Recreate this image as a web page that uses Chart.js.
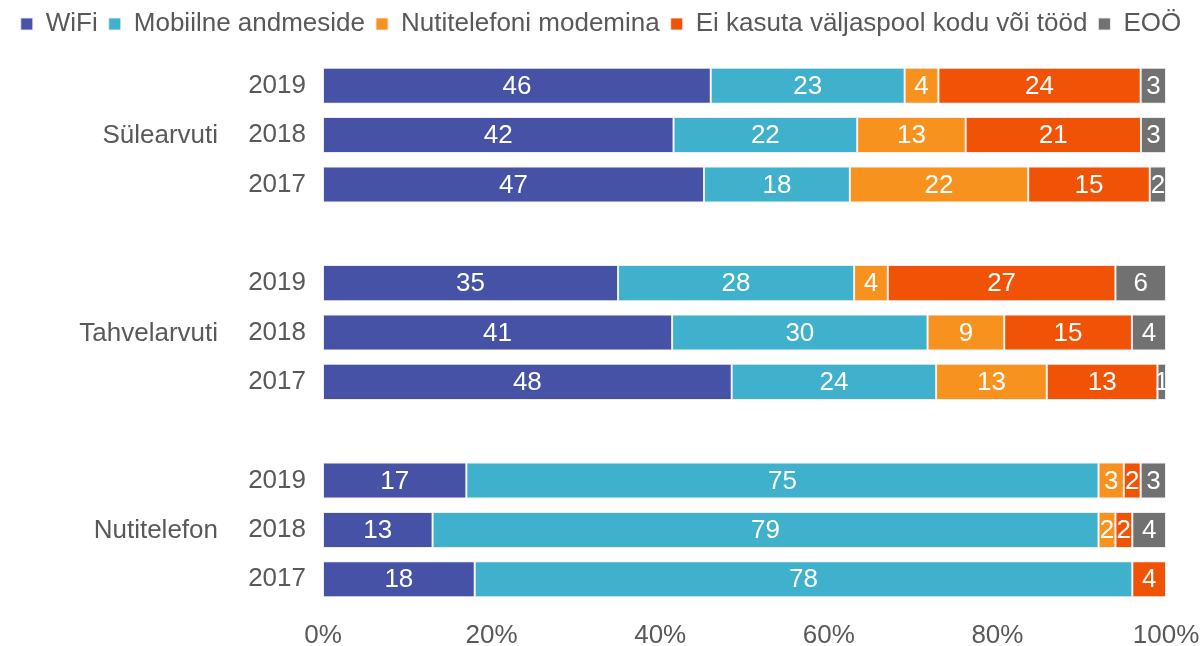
<!DOCTYPE html>
<html>
<head>
<meta charset="utf-8">
<script src="https://cdn.jsdelivr.net/npm/chart.js@4/dist/chart.umd.min.js"></script>
<style>
  html, body { margin: 0; padding: 0; background: #fff; }
  #wrap { width: 1202px; height: 646px; position: relative; }
</style>
</head>
<body>
<div id="wrap"><canvas id="chart"></canvas></div>
<script>
const groups = ['Sülearvuti', 'Tahvelarvuti', 'Nutitelefon'];
const years = ['2019', '2018', '2017'];
const seriesNames = ['WiFi', 'Mobiilne andmeside', 'Nutitelefoni modemina', 'Ei kasuta väljaspool kodu või tööd', 'EOÖ'];
const seriesColors = ['#4652A5', '#3FB1CD', '#F7921F', '#F05306', '#717171'];

// rows per group: 2019, 2018, 2017
const wifi    = [46, 42, 47,  35, 41, 48,  17, 13, 18];
const mobile  = [23, 22, 18,  28, 30, 24,  75, 79, 78];
const modem   = [ 4, 13, 22,   4,  9, 13,   3,  2,  0];
const notUsed = [24, 21, 15,  27, 15, 13,   2,  2,  4];
const eoo     = [ 3,  3,  2,   6,  4,  1,   3,  4,  0];
const xTicks = ['0%', '20%', '40%', '60%', '80%', '100%'];

const series = [wifi, mobile, modem, notUsed, eoo];
const rowTotals = wifi.map((_, i) => series.reduce((s, arr) => s + arr[i], 0));

// category list with an empty row between groups
const labels = [];
const rowIndex = [];
groups.forEach((g, gi) => {
  if (gi > 0) { labels.push(''); rowIndex.push(null); }
  years.forEach((y, yi) => { labels.push(y); rowIndex.push(gi * 3 + yi); });
});

const datasets = series.map((arr, si) => ({
  label: seriesNames[si],
  backgroundColor: seriesColors[si],
  borderColor: 'rgba(235,235,235,0.9)',
  borderWidth: 1,
  borderSkipped: false,
  raw: rowIndex.map(r => r === null ? null : arr[r]),
  data: rowIndex.map(r => r === null ? null : arr[r] / rowTotals[r] * 100),
  categoryPercentage: 1,
  barPercentage: 0.73
}));

const FONT = '"Liberation Sans", Arial, sans-serif';
const GREY = '#595959';
const SIZE = 26;

// make room under the legend
const legendSpace = {
  id: 'legendSpace',
  beforeInit(chart) {
    const fit = chart.legend.fit;
    chart.legend.fit = function () {
      fit.bind(chart.legend)();
      this.height += 14;
    };
  }
};

// white numbers inside each segment
const segmentLabels = {
  id: 'segmentLabels',
  afterDatasetsDraw(chart) {
    const ctx = chart.ctx;
    ctx.save();
    ctx.font = SIZE + 'px ' + FONT;
    ctx.fillStyle = '#fff';
    ctx.textAlign = 'center';
    ctx.textBaseline = 'middle';
    chart.data.datasets.forEach((ds, di) => {
      chart.getDatasetMeta(di).data.forEach((bar, i) => {
        const v = ds.raw[i];
        if (!v) return;
        const cx = (bar.x + bar.base) / 2;
        ctx.fillText(String(v), cx, bar.y + 1);
      });
    });
    ctx.restore();
  }
};

// group names to the left of the year labels
const groupLabels = {
  id: 'groupLabels',
  afterDraw(chart) {
    const ctx = chart.ctx;
    const y = chart.scales.y;
    ctx.save();
    ctx.font = SIZE + 'px ' + FONT;
    ctx.fillStyle = GREY;
    ctx.textAlign = 'right';
    ctx.textBaseline = 'middle';
    groups.forEach((g, gi) => {
      const mid = gi * 4 + 1;
      ctx.fillText(g, 218, y.getPixelForValue(mid) + 1);
    });
    ctx.restore();
  }
};

new Chart(document.getElementById('chart'), {
  type: 'bar',
  data: { labels, datasets },
  plugins: [legendSpace, segmentLabels, groupLabels],
  options: {
    indexAxis: 'y',
    responsive: true,
    maintainAspectRatio: false,
    animation: false,
    layout: { padding: 0 },
    plugins: {
      legend: {
        position: 'top',
        align: 'center',
        labels: {
          boxWidth: 12,
          boxHeight: 12,
          padding: 11,
          color: GREY,
          font: { family: FONT, size: SIZE }
        }
      },
      tooltip: { enabled: false }
    },
    scales: {
      x: {
        stacked: true,
        min: 0,
        max: 100,
        grid: { display: false, drawTicks: false },
        border: { display: false },
        afterFit: s => {
          s.height = 42;
          s.paddingLeft = 0;
          s.paddingRight = 36;
        },
        ticks: {
          stepSize: 20,
          padding: 16,
          color: GREY,
          font: { family: FONT, size: SIZE },
          callback: (v) => xTicks[v / 20]
        }
      },
      y: {
        stacked: true,
        grid: { display: false, drawTicks: false },
        border: { display: false },
        afterFit: s => { s.width = 323; },
        ticks: {
          padding: 17,
          color: GREY,
          font: { family: FONT, size: SIZE }
        }
      }
    }
  }
});
</script>
</body>
</html>
